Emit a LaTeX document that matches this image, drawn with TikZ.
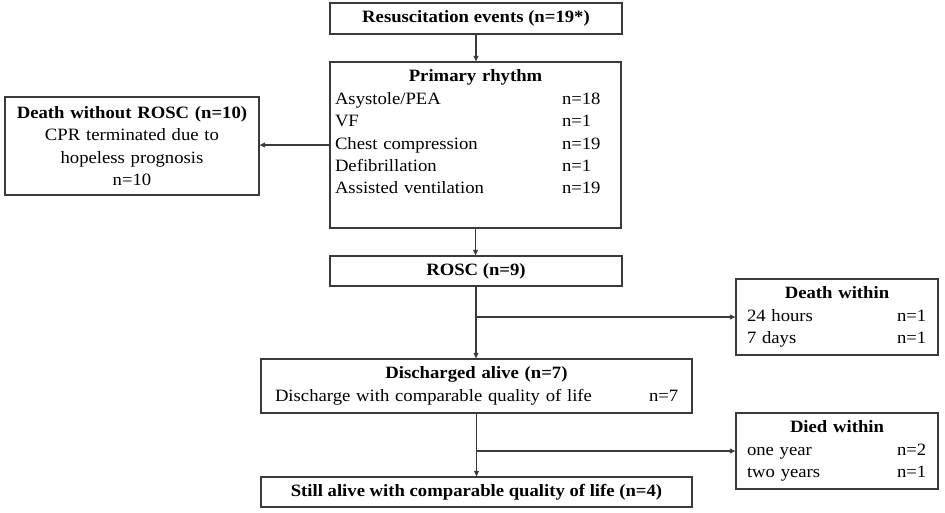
\documentclass[tikz,border=0pt]{standalone}
\usepackage{fontspec}
\setmainfont{Liberation Serif}[FakeStretch=1.08]
\usetikzlibrary{arrows.meta, positioning}

\definecolor{linegray}{HTML}{3A3A3A}
\tikzset{
    box/.style={draw=linegray, line width=1.3pt, inner sep=0pt, align=center},
    flow/.style={draw=linegray, line width=1.1pt, -{Triangle[length=5.5pt,width=5pt]}},
}
% one line with a count on the right
\newcommand{\entry}[4]{\makebox[#1][l]{\makebox[#2][l]{#3}#4}}

\begin{document}
\begin{tikzpicture}[x=1pt, y=-1pt, font=\fontsize{17.3}{22.4}\selectfont]
\useasboundingbox (0,0) rectangle (945,512);

%% main column
\node[box, minimum width=292pt, minimum height=31pt] (events) at (476,18.5)
    {\textbf{Resuscitation events (n=19*)}};
\node[box, minimum width=291pt, minimum height=166pt, text width=281pt] (rhythm) at (475.5,145)
    {\textbf{Primary rhythm}\\
     \entry{281pt}{227pt}{Asystole/PEA}{n=18}\\
     \entry{281pt}{227pt}{VF}{n=1}\\
     \entry{281pt}{227pt}{Chest compression}{n=19}\\
     \entry{281pt}{227pt}{Defibrillation}{n=1}\\
     \entry{281pt}{227pt}{Assisted ventilation}{n=19}\\[-3pt]
     \strut};
\node[box, minimum width=292pt, minimum height=30pt] (rosc) at (476,271)
    {\textbf{ROSC (n=9)}};
\node[box, minimum width=431pt, minimum height=54pt, text width=403pt] (discharged) at (476.5,386)
    {\textbf{Discharged alive (n=7)}\\
     \entry{403pt}{374pt}{Discharge with comparable quality of life}{n=7}};
\node[box, minimum width=431pt, minimum height=30pt] (alive) at (476.5,492)
    {\textbf{Still alive with comparable quality of life (n=4)}};

%% side boxes
\node[box, minimum width=254pt, minimum height=98pt, text width=244pt] (norosc) at (132,146)
    {\textbf{Death without ROSC (n=10)}\\
     CPR terminated due to\\
     hopeless prognosis\\
     n=10};
\node[box, minimum width=202pt, minimum height=76pt, text width=180pt] (deathwithin) at (837,317)
    {\textbf{Death within}\\
     \entry{180pt}{150pt}{24 hours}{n=1}\\
     \entry{180pt}{150pt}{7 days}{n=1}};
\node[box, minimum width=202pt, minimum height=76pt, text width=180pt] (diedwithin) at (837,451)
    {\textbf{Died within}\\
     \entry{180pt}{150pt}{one year}{n=2}\\
     \entry{180pt}{150pt}{two years}{n=1}};

% split points
\coordinate (split1) at (rosc.south |- deathwithin.west);
\coordinate (split2) at (discharged.south |- diedwithin.west);

%% arrows
\draw[flow] (events.south) -- (events.south |- rhythm.north);
\draw[flow] (rhythm.west) -- (rhythm.west -| norosc.east);
\draw[flow] (rhythm.south) -- (rhythm.south |- rosc.north);
\draw[flow] (rosc.south) -- (rosc.south |- discharged.north);
\draw[flow] (split1) -- (deathwithin.west);
\draw[flow] (discharged.south) -- (discharged.south |- alive.north);
\draw[flow] (split2) -- (diedwithin.west);

\end{tikzpicture}
\end{document}
